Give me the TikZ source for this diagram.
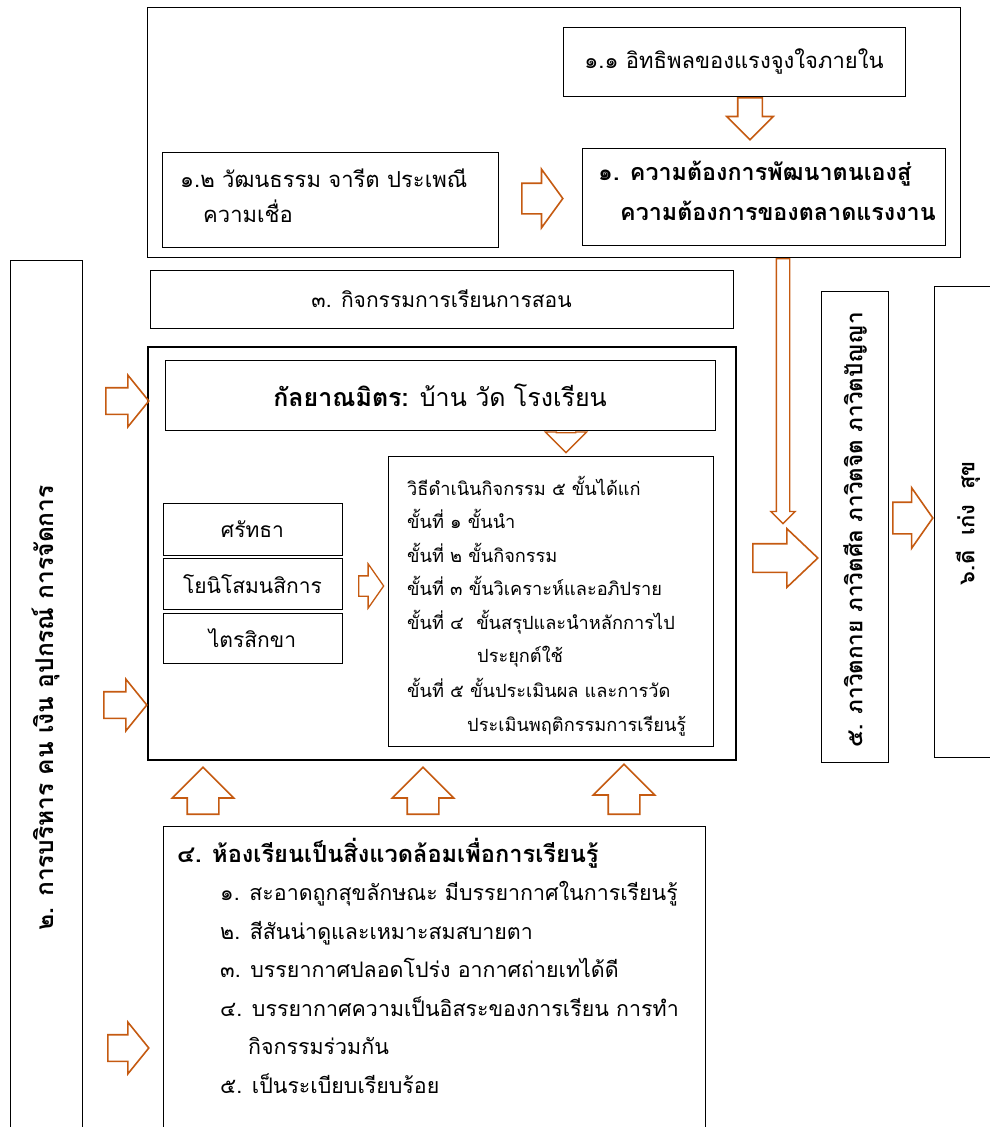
\documentclass[tikz,border=0pt]{standalone}
\usepackage{fontspec}
\setmainfont[Script=Thai]{Loma}
\usetikzlibrary{shapes.arrows}
\definecolor{arroworange}{RGB}{197,90,17}
\tikzset{
  box/.style = {draw, line width = 1pt, inner sep = 0pt},
  thickbox/.style = {draw, line width = 2.6pt, inner sep = 0pt},
  blockarrow/.style = {single arrow, draw = arroworange, line width = 1.6pt,
    inner xsep = 0pt, anchor = tail},
  txt/.style = {inner sep = 0pt, align = left, anchor = north west}
}
\begin{document}
\begin{tikzpicture}[x = 1pt, y = -1pt]
    \useasboundingbox (0,0) rectangle (990,1127);
    % top part
    \node [box, minimum width = 813, minimum height = 250] (top) at (553.5,132) {};
    \node [box, minimum width = 342, minimum height = 69, font = \fontsize{22}{26}\selectfont] (infl) at (734,61.5) {๑.๑ อิทธิพลของแรงจูงใจภายใน};
    \node [box, minimum width = 336, minimum height = 95] (cult) at (330,199.5) {};
    \node [txt, font = \fontsize{22}{35}\selectfont] (cultT) at (180,169) {๑.๒ วัฒนธรรม จารีต ประเพณี\\\hspace*{23pt}ความเชื่อ};
    \node [box, minimum width = 363, minimum height = 97] (need) at (763.5,196.5) {};
    \node [txt, font = \fontsize{23.3}{40}\bfseries\selectfont] (needT) at (598,161) {๑. ความต้องการพัฒนาตนเองสู่\\\hspace*{22pt}ความต้องการของตลาดแรงงาน};
    % activity boxes
    \node [box, minimum width = 583, minimum height = 58, font = \fontsize{21}{26}\selectfont] (teach) at (441.5,299) {๓. กิจกรรมการเรียนการสอน};
    \node [thickbox, minimum width = 588, minimum height = 413] (main) at (442,553.5) {};
    \node [box, minimum width = 550, minimum height = 70, font = \fontsize{25}{30}\selectfont] (friend) at (440,395) {{\bfseries กัลยาณมิตร:} บ้าน วัด โรงเรียน};
    \node [box, minimum width = 325, minimum height = 290] (steps) at (550.5,601) {};
    \node [txt, font = \fontsize{18.2}{33.4}\selectfont] (stepsT) at (407,476) {วิธีดำเนินกิจกรรม ๕ ขั้นได้แก่\\
        ขั้นที่ ๑ ขั้นนำ\\
        ขั้นที่ ๒ ขั้นกิจกรรม\\
        ขั้นที่ ๓ ขั้นวิเคราะห์และอภิปราย\\
        ขั้นที่ ๔\ \ ขั้นสรุปและนำหลักการไป\\
        \hspace*{70pt}ประยุกต์ใช้\\[2pt]
        ขั้นที่ ๕ ขั้นประเมินผล และการวัด\\
        \hspace*{60pt}ประเมินพฤติกรรมการเรียนรู้};
    \node [box, minimum width = 179, minimum height = 52, font = \fontsize{21}{26}\selectfont] (faith) at (252.5,529) {ศรัทธา};
    \node [box, minimum width = 179, minimum height = 51, font = \fontsize{21}{26}\selectfont] (yoni) at (252.5,584) {โยนิโสมนสิการ};
    \node [box, minimum width = 179, minimum height = 50, font = \fontsize{21}{26}\selectfont] (tri) at (252.5,638) {ไตรสิกขา};
    % side boxes
    \node [box, minimum width = 72, minimum height = 880] (admin) at (46,700) {};
    \node [rotate = 90, font = \fontsize{24.5}{26}\bfseries\selectfont] (adminT) at (46,708) {๒. การบริหาร คน เงิน อุปกรณ์ การจัดการ};
    \node [box, minimum width = 67, minimum height = 471] (bhava) at (854.5,526.5) {};
    \node [rotate = 90, font = \fontsize{22.5}{26}\bfseries\selectfont] (bhavaT) at (855,530) {๕. ภาวิตกาย ภาวิตศีล ภาวิตจิต ภาวิตปัญญา};
    \node [box, minimum width = 66, minimum height = 471] (good) at (967,521.5) {};
    \node [rotate = 90, font = \fontsize{22}{26}\bfseries\selectfont] (goodT) at (968,523) {๖.ดี\ \ เก่ง\ \ สุข};
    % classroom
    \node [box, minimum width = 542, minimum height = 314] (room) at (434,983) {};
    \node [txt, font = \fontsize{21.4}{38.5}\selectfont] (roomT) at (177,838) {{\fontsize{23.6}{38.5}\bfseries ๔. ห้องเรียนเป็นสิ่งแวดล้อมเพื่อการเรียนรู้}\\
        \hspace*{43pt}๑. สะอาดถูกสุขลักษณะ มีบรรยากาศในการเรียนรู้\\
        \hspace*{43pt}๒. สีสันน่าดูและเหมาะสมสบายตา\\
        \hspace*{43pt}๓. บรรยากาศปลอดโปร่ง อากาศถ่ายเทได้ดี\\
        \hspace*{43pt}๔. บรรยากาศความเป็นอิสระของการเรียน การทำ\\
        \hspace*{71pt}กิจกรรมร่วมกัน\\
        \hspace*{43pt}๕. เป็นระเบียบเรียบร้อย};
    % block arrows
    \node [blockarrow, rotate = -90, minimum height = 42, inner ysep = 11.5, single arrow head extend = 11] (a1) at (750,97) {};
    \node [blockarrow, minimum height = 41, inner ysep = 14.5, single arrow head extend = 14, single arrow tip angle = 108] (a2) at (521,198.5) {};
    \node [blockarrow, rotate = -90, minimum height = 20, inner ysep = 9, single arrow head extend = 11, line width = 1.3pt] (a3) at (566,432) {};
    \node [blockarrow, minimum height = 25, inner ysep = 9.5, single arrow head extend = 12, single arrow tip angle = 110, line width = 1.3pt] (a4) at (358,586) {};
    \node [blockarrow, rotate = -90, minimum height = 265, inner ysep = 6, single arrow head extend = 5.5, line width = 1.3pt] (a5) at (783,258) {};
    \node [blockarrow, minimum height = 65, inner ysep = 13.5, single arrow head extend = 15, single arrow tip angle = 87] (a6) at (752,558) {};
    \node [blockarrow, minimum height = 40, inner ysep = 15, single arrow head extend = 14.5, single arrow tip angle = 110] (a7) at (892,518) {};
    \node [blockarrow, minimum height = 43, inner ysep = 12.5, single arrow head extend = 12.5, single arrow tip angle = 102] (l1) at (105,401) {};
    \node [blockarrow, minimum height = 43, inner ysep = 12.5, single arrow head extend = 12.5, single arrow tip angle = 102] (l2) at (103,705) {};
    \node [blockarrow, minimum height = 41, inner ysep = 12.5, single arrow head extend = 12.5, single arrow tip angle = 102] (l3) at (107,1048) {};
    \node [blockarrow, rotate = 90, minimum height = 47, inner ysep = 15, single arrow head extend = 15] (u1) at (203,815) {};
    \node [blockarrow, rotate = 90, minimum height = 47, inner ysep = 15, single arrow head extend = 15] (u2) at (423,815) {};
    \node [blockarrow, rotate = 90, minimum height = 50, inner ysep = 15, single arrow head extend = 15] (u3) at (624,815) {};
\end{tikzpicture}
\end{document}
